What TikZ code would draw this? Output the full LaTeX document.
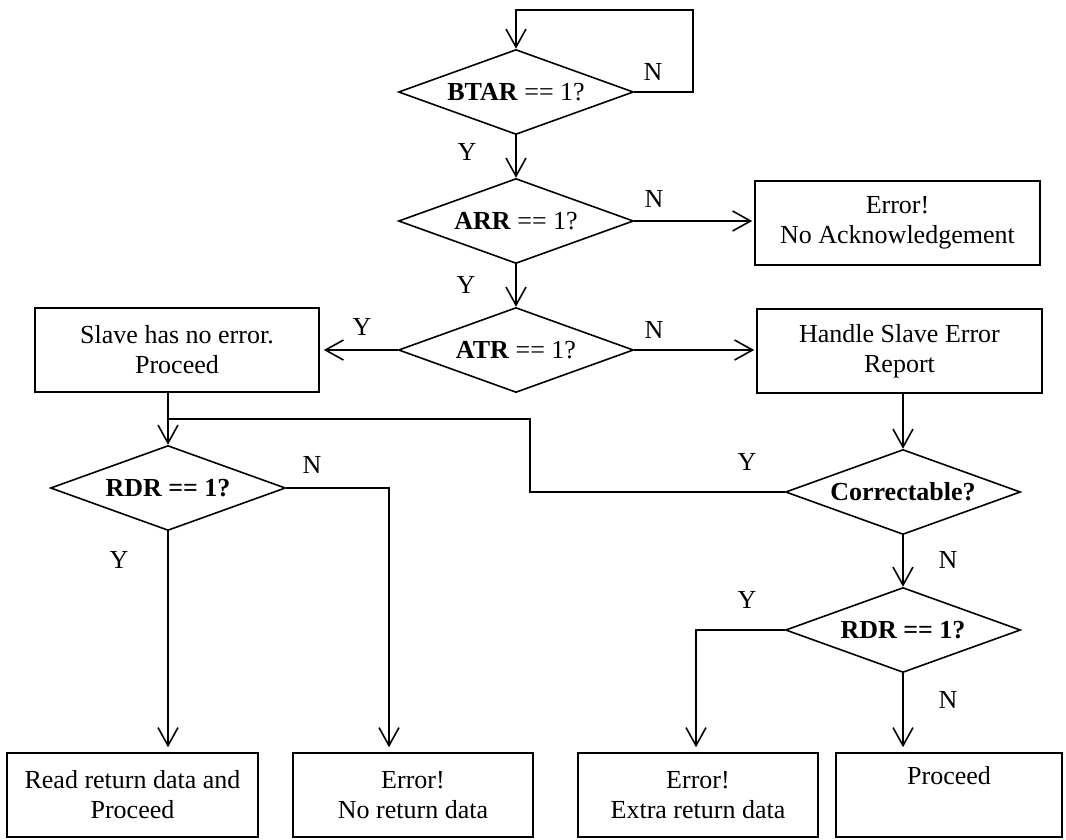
\documentclass[tikz,border=0pt]{standalone}
\usepackage{fontspec}
\setmainfont{Liberation Serif}
\usetikzlibrary{arrows.meta,positioning,shapes.geometric}

\begin{document}
\begin{tikzpicture}[x=1pt,y=-1pt,
    line width=1.6pt,
    font=\fontsize{26}{30}\selectfont,
    decision/.style={draw,diamond,aspect=2.76,inner sep=0pt,minimum width=235pt,minimum height=85pt},
    block/.style={draw,rectangle,align=center,inner sep=0pt,minimum height=84pt},
    flow/.style={-{Straight Barb[length=18pt,width=20pt]}},
    lbl/.style={inner sep=0pt}]
  \useasboundingbox (0,0) rectangle (1066,839);
  % decisions
  \node[decision] (btar) at (516,92) {\textbf{BTAR} == 1?};
  \node[decision] (arr) at (516,221) {\textbf{ARR} == 1?};
  \node[decision] (atr) at (516,350) {\textbf{ATR} == 1?};
  \node[decision] (rdrA) at (168,488) {\textbf{RDR == 1?}};
  \node[decision] (corr) at (903,492) {\textbf{Correctable?}};
  \node[decision] (rdrB) at (903,630) {\textbf{RDR == 1?}};
  % boxes
  \node[block,minimum width=285pt] (noack) at (897.5,223) {Error!\\No Acknowledgement};
  \node[block,minimum width=284pt] (slave) at (177,350) {Slave has no error.\\Proceed};
  \node[block,minimum width=285pt] (handle) at (899.5,351) {Handle Slave Error\\Report};
  \node[block,minimum width=251pt] (readdata) at (132.5,795) {Read return data and\\Proceed};
  \node[block,minimum width=240pt] (noret) at (413,795) {Error!\\No return data};
  \node[block,minimum width=240pt] (extra) at (698,795) {Error!\\Extra return data};
  \node[block,minimum width=226pt] (proceed) at (949,795) {Proceed\\\strut};
  % bends
  \coordinate (loop) at (693,10);
  \coordinate (merge) at (530,419);
  \coordinate (nturn) at (389,488);
  \coordinate (yturn) at (696,630);
  % connectors
  \draw[flow] (btar.east) -| (loop) -| (btar.north);
  \draw[flow] (btar.south) -- (arr.north);
  \draw[flow,shorten >=2pt] (arr.east) -- (arr.east -| noack.west);
  \draw[flow] (arr.south) -- (atr.north);
  \draw[flow,shorten >=4pt] (atr.west) -- (slave.east);
  \draw[flow,shorten >=2pt] (atr.east) -- (atr.east -| handle.west);
  \draw[flow] (slave.south -| rdrA.north) -- (rdrA.north);
  \draw (corr.west) -| (merge) -- (merge -| rdrA.north);
  \draw[flow] (handle.south -| corr.north) -- (corr.north);
  \draw[flow,shorten >=5pt] (rdrA.east) -- (nturn) -- (nturn |- noret.north);
  \draw[flow,shorten >=5pt] (rdrA.south) -- (rdrA.south |- readdata.north);
  \draw[flow] (corr.south) -- (rdrB.north);
  \draw[flow,shorten >=5pt] (rdrB.west) -- (yturn) -- (yturn |- extra.north);
  \draw[flow,shorten >=5pt] (rdrB.south) -- (rdrB.south |- proceed.north);
  % labels
  \node[lbl] (nbtar) at (653,72) {N};
  \node[lbl] (ybtar) at (467,152) {Y};
  \node[lbl] (narr) at (654,199) {N};
  \node[lbl] (yarr) at (466,285) {Y};
  \node[lbl] (yatr) at (362,327) {Y};
  \node[lbl] (natr) at (654,330) {N};
  \node[lbl] (nrdrA) at (312,465) {N};
  \node[lbl] (yrdrA) at (119,560) {Y};
  \node[lbl] (ycorr) at (747,462) {Y};
  \node[lbl] (ncorr) at (948,560) {N};
  \node[lbl] (yrdrB) at (747,600) {Y};
  \node[lbl] (nrdrB) at (948,700) {N};
\end{tikzpicture}
\end{document}
